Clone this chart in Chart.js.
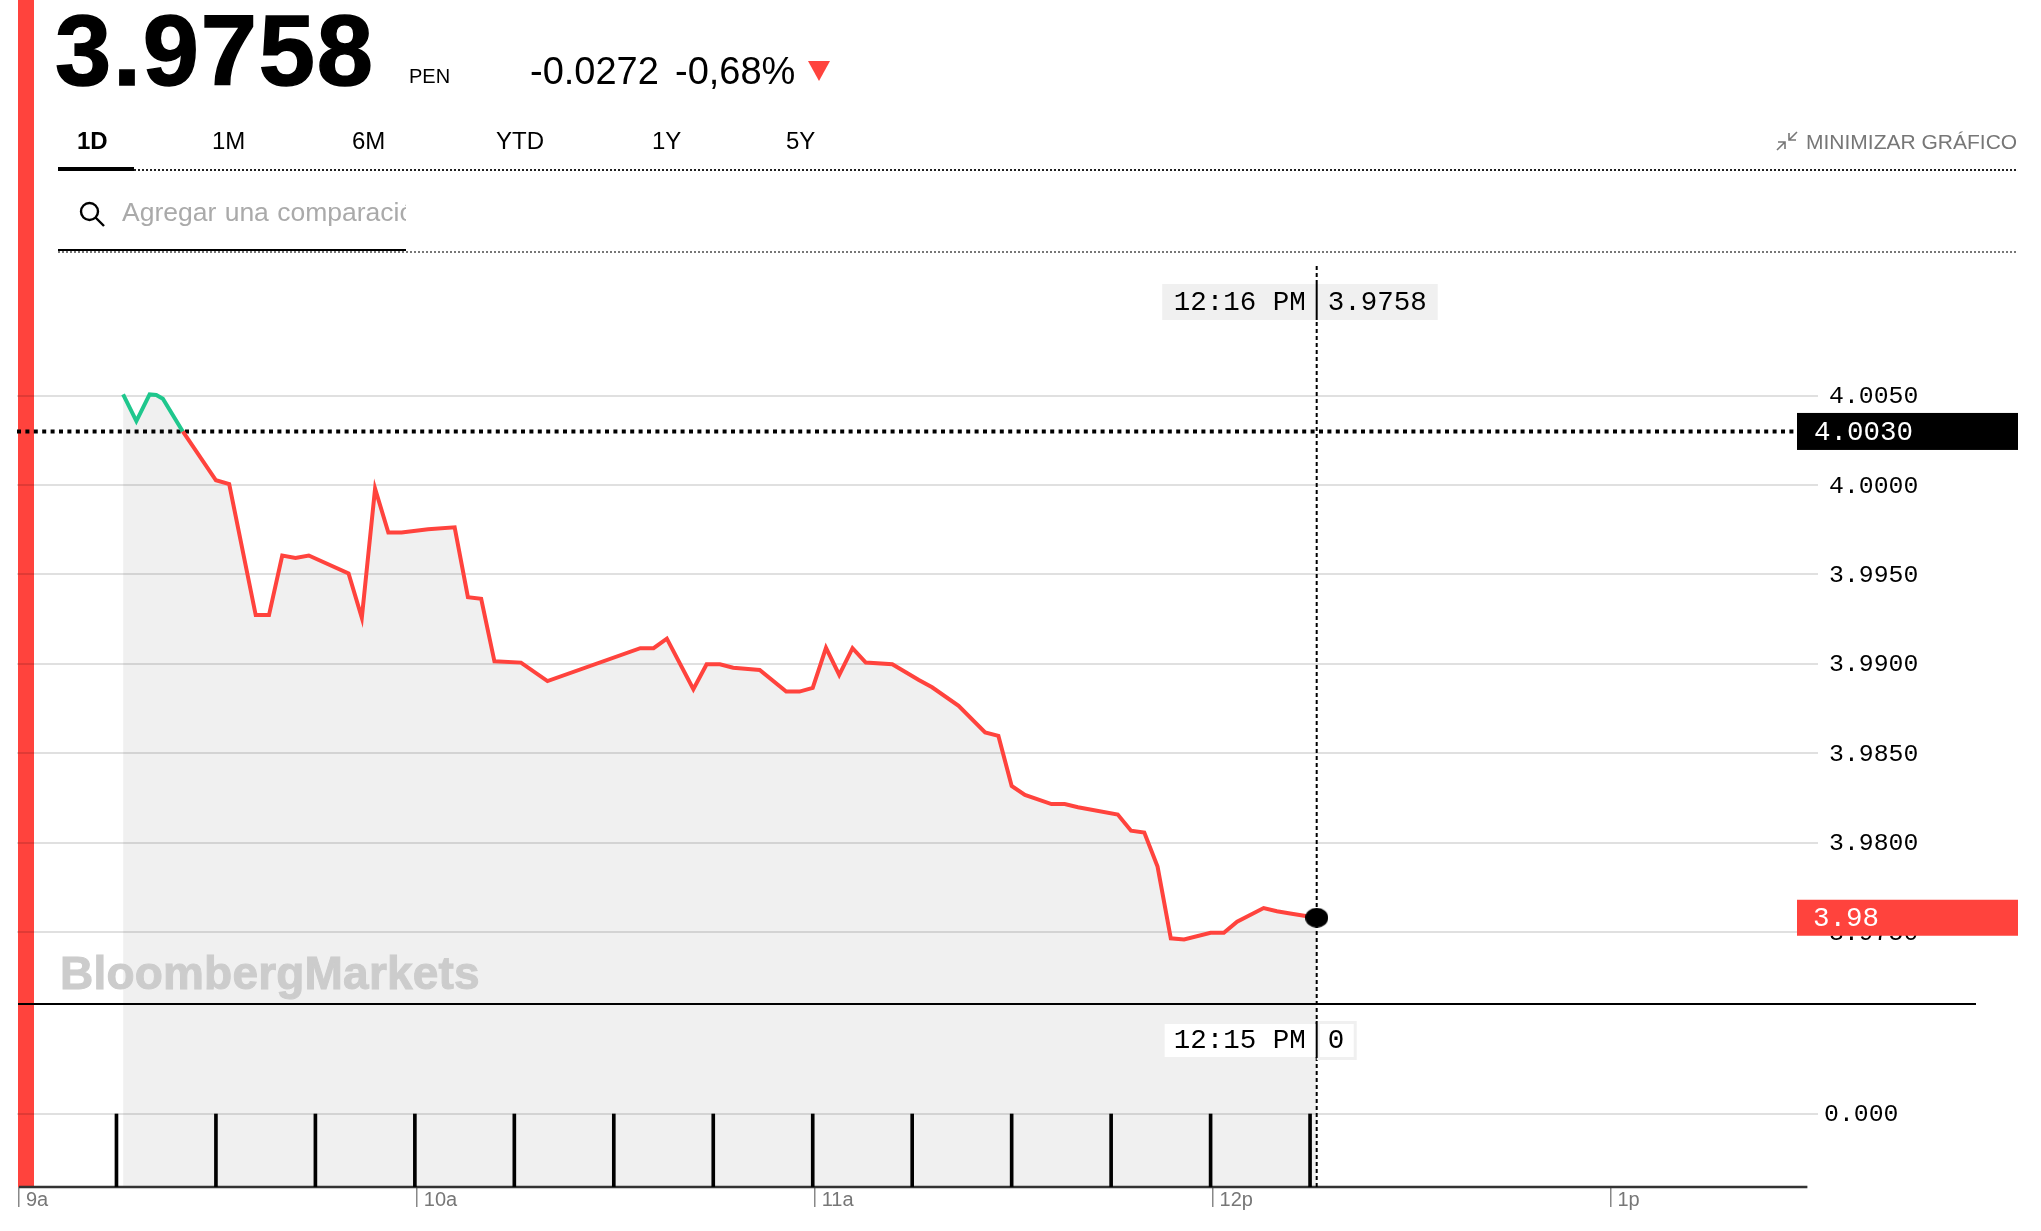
<!DOCTYPE html>
<html lang="es">
<head>
<meta charset="utf-8">
<title>PEN 3.9758</title>
<script src="https://cdn.jsdelivr.net/npm/chart.js@4/dist/chart.umd.js"></script>
<style>
  html, body { margin: 0; padding: 0; background: #fff; overflow: hidden; }
  body { width: 2041px; height: 1231px; position: relative; font-family: "Liberation Sans", Arial, sans-serif; color: #000; }
  #chart { position: absolute; left: 0; top: 0; }
  .abs { position: absolute; white-space: nowrap; line-height: 1; }
  .tab { top: 129px; font-size: 24px; }
  #redbar { position: absolute; left: 18px; top: 0; width: 16px; height: 1187px; background: #ff433d; }
  #sep { position: absolute; left: 18px; top: 1003px; width: 1958px; height: 2px; background: #000; }
  .dots { position: absolute; height: 2px; background-image: repeating-linear-gradient(to right, currentColor 0 2px, transparent 2px 4px); }
</style>
</head>
<body>
<div id="redbar"></div>
<canvas id="chart" width="2041" height="1231"></canvas>
<div id="sep"></div>

<div class="abs" style="left:55px;top:0;font-size:101px;font-weight:700;letter-spacing:1.8px;-webkit-text-stroke:1.5px #000">3.9758</div>
<div class="abs" style="left:409px;top:66px;font-size:20px">PEN</div>
<div class="abs" style="left:530px;top:52px;font-size:38px">-0.0272</div>
<div class="abs" style="left:675px;top:52px;font-size:38px">-0,68%</div>
<div class="abs" style="left:808px;top:61px;width:22px;height:20px;background:#ff433d;clip-path:polygon(0 0,100% 0,50% 100%)"></div>

<div class="abs tab" style="left:77px;font-weight:700">1D</div>
<div class="abs tab" style="left:212px">1M</div>
<div class="abs tab" style="left:352px">6M</div>
<div class="abs tab" style="left:496px">YTD</div>
<div class="abs tab" style="left:652px">1Y</div>
<div class="abs tab" style="left:786px">5Y</div>

<svg class="abs" style="left:1775px;top:130px" width="24" height="22" viewBox="0 0 24 22" fill="none" stroke="#777" stroke-width="1.6">
  <path d="M22 2 L14 10 M14 3 V10 H21 M2 20 L10 12 M3 12 H10 V19" />
</svg>
<div class="abs" style="left:1806px;top:131px;font-size:21px;color:#777">MINIMIZAR GRÁFICO</div>

<div class="abs" style="left:58px;top:167px;width:76px;height:4px;background:#000"></div>
<div class="dots" style="left:134px;top:169px;width:1884px;color:#222"></div>

<svg class="abs" style="left:78px;top:200px" width="28" height="28" viewBox="0 0 28 28" fill="none" stroke="#000" stroke-width="2.4">
  <circle cx="11.5" cy="11.5" r="8.5" /><path d="M17.5 17.5 L26 26" />
</svg>
<div class="abs" style="left:122px;top:199px;width:284px;overflow:hidden;font-size:26.5px;color:#aaa;word-spacing:1px">Agregar una comparación</div>
<div class="abs" style="left:58px;top:249px;width:348px;height:2px;background:#000"></div>
<div class="dots" style="left:58px;top:251px;width:1960px;color:#777"></div>

<div class="abs" style="left:60px;top:950px;font-size:46px;font-weight:700;letter-spacing:.2px;color:#ccc;-webkit-text-stroke:1px #ccc">BloombergMarkets</div>

<script>
// minutes after 9:00
const minutes = [16, 18, 20, 21, 22, 25, 30, 32, 36, 38, 40, 42, 44, 50, 52, 54, 56, 58, 62, 66,
  68, 70, 72, 76, 80, 94, 96, 98, 102, 104, 106, 108, 112, 116, 118, 120, 122, 124, 126, 128,
  132, 136, 138, 142, 146, 148, 150, 152, 156, 158, 160, 166, 168, 170, 172, 174, 176, 180, 182, 184,
  188, 190, 192, 196];
const prices = [4.00507, 4.00358, 4.00507, 4.00504, 4.00483, 4.0030, 4.00027, 4.00005, 3.99273, 3.99273,
  3.99606, 3.99593, 3.99606, 3.99506, 3.99258, 3.9998, 3.99735, 3.99735, 3.99753, 3.99764,
  3.99373, 3.99364, 3.99014, 3.99007, 3.98904, 3.99088, 3.99088, 3.99141, 3.98858, 3.98998,
  3.98998, 3.98978, 3.98966, 3.98845, 3.98845, 3.98866, 3.9909, 3.98938, 3.99088, 3.99007,
  3.98998, 3.9891, 3.98869, 3.98765, 3.98616, 3.98597, 3.98317, 3.98267, 3.98216, 3.98216,
  3.98198, 3.98157, 3.98067, 3.98056, 3.97866, 3.97465, 3.97459, 3.97496, 3.97496, 3.97558,
  3.97634, 3.97616, 3.97604, 3.9758];
const volumeMinutes = [15, 30, 45, 60, 75, 90, 105, 120, 135, 150, 165, 180, 195];
const volumes = [0, 0, 0, 0, 0, 0, 0, 0, 0, 0, 0, 0, 0];

const prevClose = 4.0030;
const lastPrice = 3.9758;
const lastMinute = 196;
const priceTicks = [3.975, 3.98, 3.985, 3.99, 3.995, 4.0, 4.005];
const volumeTicks = [0];
const hourMinutes = [0.3, 60.3, 120.3, 180.3, 240.3];
const hourLabels = ['9a', '10a', '11a', '12p', '1p'];

const RED = '#ff433d';
const GREEN = '#1fc78d';
const GRID = 'rgba(0,0,0,0.12)';
const MONO = '"Liberation Mono", monospace';

const pricePoints = minutes.map((m, i) => ({x: m, y: prices[i]}));

// the last price dot is a bit wider than tall
const dot = document.createElement('canvas');
dot.width = 23;
dot.height = 20;
const dotCtx = dot.getContext('2d');
dotCtx.fillStyle = '#000';
dotCtx.beginPath();
dotCtx.ellipse(11.5, 10, 11.5, 10, 0, 0, Math.PI * 2);
dotCtx.fill();

const tagsPlugin = {
  id: 'tags',
  afterLayout(chart) {
    // tick labels get clipped to the scale box, y2 has no width of its own
    chart.scales.y2.right = chart.width;
  },
  afterDraw(chart) {
    const ctx = chart.ctx;
    const x = chart.scales.x;
    const y = chart.scales.y;
    const cross = x.getPixelForValue(lastMinute);

    function box(left, top, w, h, bg) {
      ctx.fillStyle = bg;
      ctx.fillRect(left, top, w, h);
    }
    function text(str, left, mid, color) {
      ctx.fillStyle = color;
      ctx.font = '27.5px ' + MONO;
      ctx.textAlign = 'left';
      ctx.textBaseline = 'middle';
      ctx.fillText(str, left, mid);
    }

    ctx.save();
    // price tags on the right
    const py = y.getPixelForValue(prevClose);
    box(1797, py - 18.5, 221, 37, '#000');
    text('4.0030', 1814, py + 1, '#fff');
    const ly = y.getPixelForValue(lastPrice);
    box(1797, ly - 18, 221, 36, RED);
    text('3.98', 1813, ly + 1, '#fff');

    // crosshair readouts
    box(cross - 154.5, 284, 275.5, 36, '#f0f0f0');
    text('12:16 PM', cross - 143, 302.5, '#000');
    text('3.9758', cross + 11, 302.5, '#000');
    ctx.fillRect(cross - 1, 284, 2, 36);

    box(cross - 152, 1024, 152, 33, '#fff');
    box(cross, 1021, 40, 39, '#f0f0f0');
    box(cross + 3, 1024, 34, 33, '#fff');
    text('12:15 PM', cross - 143, 1041, '#000');
    text('0', cross + 11, 1041, '#000');
    ctx.fillStyle = '#000';
    ctx.fillRect(cross - 1, 1021, 2, 37);
    ctx.restore();
  }
};

new Chart(document.getElementById('chart'), {
  type: 'line',
  plugins: [tagsPlugin],
  data: {
    datasets: [
      {
        label: 'last',
        data: [{x: lastMinute, y: lastPrice}],
        showLine: false,
        pointStyle: dot,
        yAxisID: 'y',
        order: 0
      },
      {
        label: 'price',
        data: pricePoints,
        borderColor: RED,
        borderWidth: 4,
        pointRadius: 0,
        tension: 0,
        fill: false,
        segment: {
          borderColor: c => c.p0.parsed.y > prevClose ? GREEN : RED
        },
        yAxisID: 'y',
        order: 1
      },
      {
        label: 'area',
        data: pricePoints,
        borderWidth: 0,
        borderColor: 'rgba(0,0,0,0)',
        pointRadius: 0,
        tension: 0,
        fill: 'start',
        backgroundColor: 'rgba(0,0,0,0.06)',
        yAxisID: 'y',
        order: 6
      },
      {
        label: 'crosshair',
        data: [{x: lastMinute, y: 3.96074}, {x: lastMinute, y: 4.01231}],
        borderColor: '#000',
        borderWidth: 2,
        borderDash: [4, 3],
        pointRadius: 0,
        yAxisID: 'y',
        order: 2
      },
      {
        label: 'prev close',
        data: [{x: 0, y: prevClose}, {x: 271.6, y: prevClose}],
        borderColor: '#000',
        borderWidth: 4,
        borderDash: [4, 4.4],
        pointRadius: 0,
        yAxisID: 'y',
        order: 3
      },
      {
        type: 'bar',
        label: 'volume',
        data: volumeMinutes.map((m, i) => ({x: m, y: volumes[i]})),
        base: -1,
        backgroundColor: '#000',
        barThickness: 3,
        yAxisID: 'y2',
        order: 4
      },
      {
        label: 'axis',
        data: [{x: 0.3, y: -1}, {x: 270, y: -1}],
        borderColor: '#333',
        borderWidth: 2.5,
        pointRadius: 0,
        clip: false,
        yAxisID: 'y2',
        order: 5
      }
    ]
  },
  options: {
    responsive: false,
    animation: false,
    devicePixelRatio: 1,
    layout: {padding: {top: 265, left: 17, right: 0, bottom: 0}},
    plugins: {legend: {display: false}, tooltip: {enabled: false}},
    scales: {
      x: {
        type: 'linear',
        offset: false,
        min: 0,
        max: 271.6,
        afterFit(s) { s.height = 44; },
        afterBuildTicks(s) { s.ticks = hourMinutes.map(v => ({value: v})); },
        grid: {offset: false, drawOnChartArea: false, tickLength: 20, color: '#888', lineWidth: 1.5},
        border: {display: false},
        ticks: {
          autoSkip: false,
          maxRotation: 0,
          align: 'start',
          labelOffset: 7,
          padding: -19,
          color: '#777',
          font: {family: '"Liberation Sans"', size: 20},
          callback: (v, i) => hourLabels[i]
        }
      },
      y: {
        position: 'right',
        min: 3.96074,
        max: 4.01231,
        weight: 1,
        afterFit(s) { s.width = 223; },
        afterBuildTicks(s) { s.ticks = priceTicks.map(v => ({value: v})); },
        grid: {color: GRID, lineWidth: 2, drawTicks: false},
        border: {display: false},
        ticks: {
          padding: 11,
          labelOffset: 1,
          color: '#000',
          font: {family: MONO, size: 24.8},
          callback: v => v.toFixed(4)
        }
      },
      y2: {
        position: 'right',
        min: -1,
        max: 11.63,
        weight: 0,
        afterFit(s) { s.width = 0; },
        afterBuildTicks(s) { s.ticks = volumeTicks.map(v => ({value: v})); },
        grid: {color: GRID, lineWidth: 2, drawTicks: false},
        border: {display: false},
        ticks: {
          padding: 6,
          color: '#000',
          font: {family: MONO, size: 24.8},
          callback: v => v.toFixed(3)
        }
      }
    }
  }
});
</script>
</body>
</html>
